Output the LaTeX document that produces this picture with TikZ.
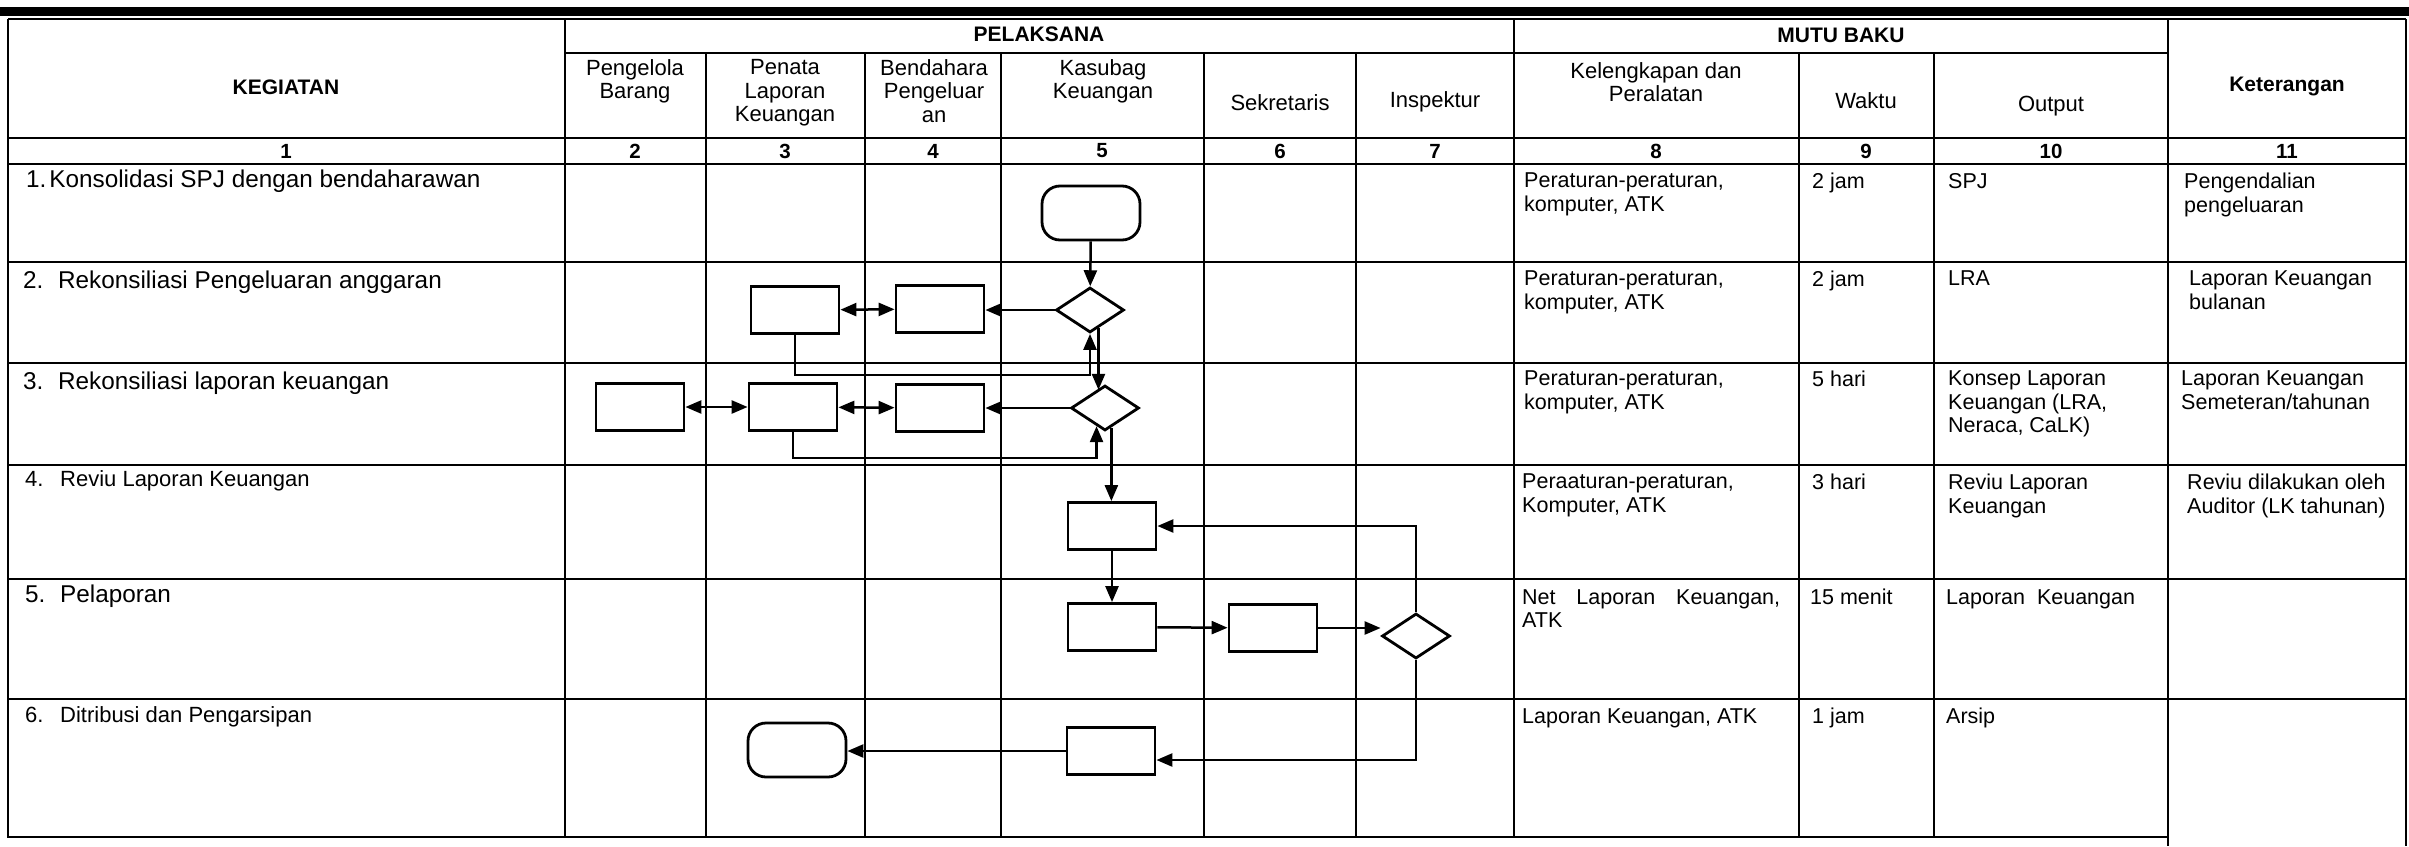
\documentclass[tikz,border=0pt]{standalone}
\usepackage{fontspec}
\setmainfont{Liberation Sans}
\usetikzlibrary{arrows.meta,shapes.geometric,calc,positioning}

\tikzset{
  tabline/.style={line width=2.5pt},
  proc/.style={draw,line width=2.8pt,minimum width=88pt,minimum height=47pt,inner sep=0pt},
  dec/.style={draw,diamond,line width=2.8pt,minimum width=68pt,minimum height=45pt,inner sep=0pt},
  term/.style={draw,line width=2.8pt,rounded corners=18pt,minimum width=98pt,minimum height=54pt,inner sep=0pt},
  flow/.style={line width=2.5pt,-{Triangle[length=16pt,width=13pt]}},
  flowboth/.style={line width=2.5pt,{Triangle[length=16pt,width=13pt]}-{Triangle[length=16pt,width=13pt]}},
  headtxt/.style={font=\bfseries\fontsize{21}{23}\selectfont},
  subtxt/.style={font=\fontsize{22}{23.3}\selectfont,align=center,inner sep=0pt},
  numtxt/.style={font=\bfseries\fontsize{20.5}{22}\selectfont},
  celltxt/.style={font=\fontsize{21.5}{23.5}\selectfont,align=left,anchor=north west,inner sep=0pt},
  stepbig/.style={font=\fontsize{24.3}{26}\selectfont,anchor=north west,inner sep=0pt},
  stepsmall/.style={font=\fontsize{22}{24}\selectfont,anchor=north west,inner sep=0pt}
}

\begin{document}
\begin{tikzpicture}[x=1pt,y=-1pt]
\useasboundingbox (0,0) rectangle (2409,846);
\draw[line width=9pt] (0,11) -- (2409,11);
\draw[tabline] (8,19) -- (2406,19);
\draw[tabline] (8,19) -- (8,837) -- (2168,837);
\draw[tabline] (565,19) -- (565,837);
\draw[tabline] (1514,19) -- (1514,837);
\draw[tabline] (2168,19) -- (2168,846);
\draw[tabline] (2406,19) -- (2406,846);
\draw[tabline] (565,53) -- (2168,53);
\foreach \y in {138,164,262,363,465,579,699}
  \draw[tabline] (8,\y) -- (2406,\y);
\foreach \x in {706,865,1001,1204,1356,1799,1934}
  \draw[tabline] (\x,53) -- (\x,837);

\node[headtxt] (kegiatan) at (286,87) {KEGIATAN};
\node[headtxt] (pelaksana) at (1039,34) {PELAKSANA};
\node[headtxt] (mutubaku) at (1841,35) {MUTU BAKU};
\node[headtxt] (keterangan) at (2287,86) {Keterangan};
\node[subtxt,anchor=north] (hbarang) at (635,59.5) {Pengelola\\Barang};
\node[subtxt,anchor=north] (hpenata) at (785,59.5) {Penata\\Laporan\\Keuangan};
\node[subtxt,anchor=north] (hbendahara) at (934,59.5) {Bendahara\\Pengeluar\\an};
\node[subtxt,anchor=north] (hkasubag) at (1103,59.5) {Kasubag\\Keuangan};
\node[subtxt] (hsekretaris) at (1280,103) {Sekretaris};
\node[subtxt] (hinspektur) at (1435,102) {Inspektur};
\node[subtxt,anchor=north] (hkelengkapan) at (1656,62) {Kelengkapan dan\\Peralatan};
\node[subtxt] (hwaktu) at (1866,101) {Waktu};
\node[subtxt] (houtput) at (2051,106) {Output};
\foreach \n/\x in {1/286,2/635,3/785,4/933,5/1102,6/1280,7/1435,8/1656,9/1866,10/2051,11/2287}
  \node[numtxt] (no\n) at (\x,151) {\n};

\node[stepbig] (keg1) at (26,170) {1.\hspace{3pt}Konsolidasi SPJ dengan bendaharawan};
\node[stepbig] (keg2) at (23,271) {\makebox[35pt][l]{2.}Rekonsiliasi Pengeluaran anggaran};
\node[stepbig] (keg3) at (23,372) {\makebox[35pt][l]{3.}Rekonsiliasi laporan keuangan};
\node[stepsmall] (keg4) at (25,470) {\makebox[35pt][l]{4.}Reviu Laporan Keuangan};
\node[stepbig] (keg5) at (25,585) {\makebox[35pt][l]{5.}Pelaporan};
\node[stepsmall] (keg6) at (25,706) {\makebox[35pt][l]{6.}Ditribusi dan Pengarsipan};

\node[celltxt] (alat1) at (1524,173) {Peraturan-peraturan,\\komputer, ATK};
\node[celltxt] (waktu1) at (1812,173) {2 jam};
\node[celltxt] (out1) at (1948,173) {SPJ};
\node[celltxt] (ket1) at (2184,173) {Pengendalian\\pengeluaran};
\node[celltxt] (alat2) at (1524,271) {Peraturan-peraturan,\\komputer, ATK};
\node[celltxt] (waktu2) at (1812,271) {2 jam};
\node[celltxt] (out2) at (1948,271) {LRA};
\node[celltxt] (ket2) at (2189,271) {Laporan Keuangan\\bulanan};
\node[celltxt] (alat3) at (1524,371) {Peraturan-peraturan,\\komputer, ATK};
\node[celltxt] (waktu3) at (1812,371) {5 hari};
\node[celltxt] (out3) at (1948,371) {Konsep Laporan\\Keuangan (LRA,\\Neraca, CaLK)};
\node[celltxt] (ket3) at (2181,371) {Laporan Keuangan\\Semeteran/tahunan};
\node[celltxt] (alat4) at (1522,474) {Peraaturan-peraturan,\\Komputer, ATK};
\node[celltxt] (waktu4) at (1812,474) {3 hari};
\node[celltxt] (out4) at (1948,474) {Reviu Laporan\\Keuangan};
\node[celltxt] (ket4) at (2187,474) {Reviu dilakukan oleh\\Auditor (LK tahunan)};
\node[celltxt] (alat5) at (1522,589) {\makebox[258pt][s]{Net Laporan Keuangan,}\\ATK};
\node[celltxt] (waktu5) at (1810,589) {15 menit};
\node[celltxt] (out5) at (1946,589) {Laporan\ \ Keuangan};
\node[celltxt] (alat6) at (1522,708) {Laporan Keuangan, ATK};
\node[celltxt] (waktu6) at (1812,708) {1 jam};
\node[celltxt] (out6) at (1946,708) {Arsip};

\node[term] (mulai) at (1091,213) {};
\node[dec] (cek1) at (1090,310) {};
\node[proc] (penata2) at (795,310) {};
\node[proc] (bend2) at (940,309) {};
\node[proc] (barang3) at (640,407) {};
\node[proc] (penata3) at (793,407) {};
\node[proc] (bend3) at (940,408) {};
\node[dec] (cek2) at (1105,408) {};
\node[proc] (reviu) at (1112,526) {};
\node[proc] (kasubag5) at (1112,627) {};
\node[proc] (sekre5) at (1273,628) {};
\node[dec] (insp5) at (1416,636) {};
\node[proc] (kasubag6) at (1111,751) {};
\node[term] (arsip) at (797,750) {};

\path[flow] (mulai) edge (cek1);
\draw[flow] (cek1.west) -- (cek1.west -| bend2.east);
\path[flowboth] (penata2) edge (bend2);
\draw[flow] (penata2.south) -- ++(0,40) -| (cek1.south);
\draw[flow] (cek1.-65) -- (cek1.-65 |- cek2.115);
\path[flow] (cek2) edge (bend3);
\path[flowboth] (barang3) edge (penata3);
\path[flowboth] (penata3) edge (bend3);
\draw[flow] (penata3.south) -- ++(0,26) -| (cek2.-115);
\draw[flow] (cek2.-72) -- (cek2.-72 |- reviu.north);
\path[flow] (reviu) edge (kasubag5);
\path[flow] (kasubag5) edge (sekre5);
\draw[flow] (sekre5.east) -- (sekre5.east -| insp5.west);
\draw[flow] (insp5.north) |- (reviu.east);
\draw[flow] (insp5.south) |- ([yshift=-9pt]kasubag6.east);
\draw[flow] (kasubag6.west) -- (kasubag6.west -| arsip.east);
\end{tikzpicture}
\end{document}
